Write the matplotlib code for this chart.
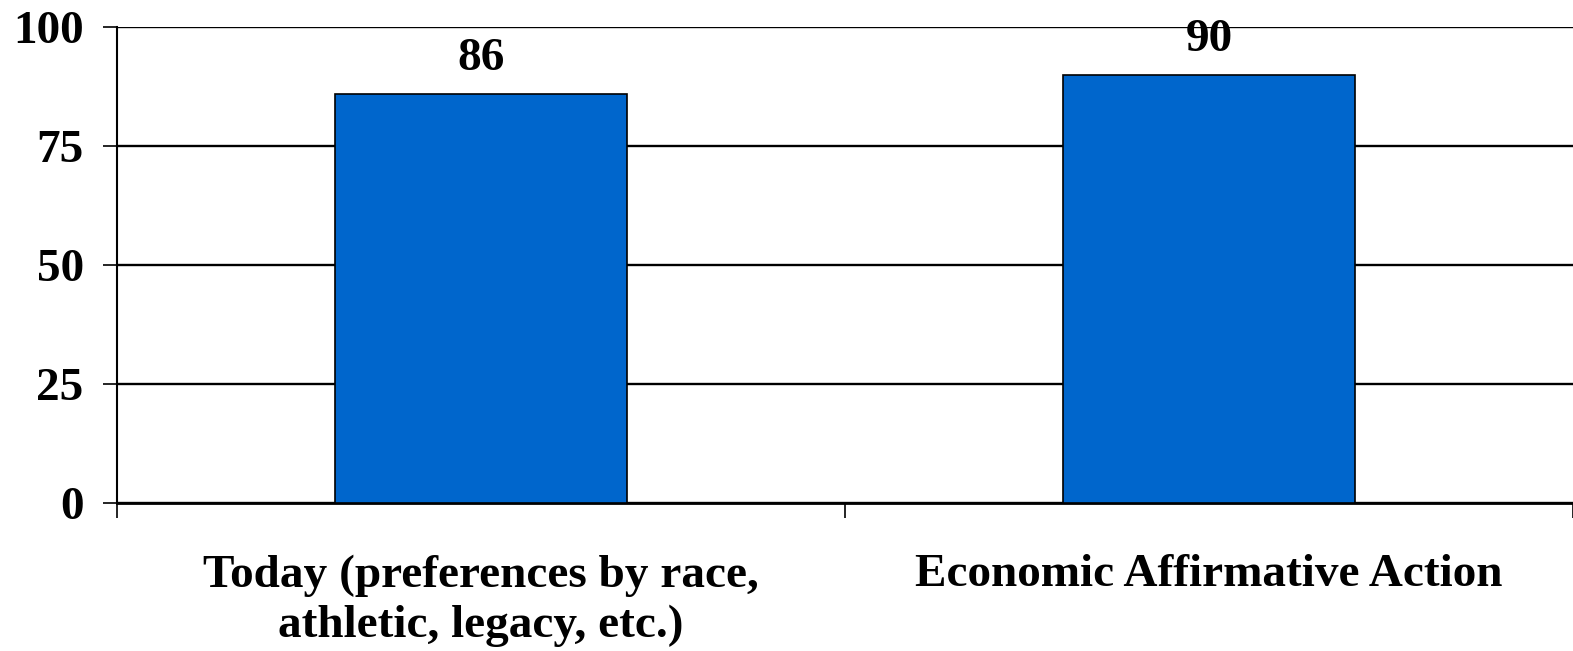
import numpy as np
import matplotlib.pyplot as plt

categories = ['Today (preferences by race,\nathletic, legacy, etc.)', 'Economic Affirmative Action']
values = [86, 90]
yticks = [0, 25, 50, 75, 100]

plt.rcParams['font.family'] = ['Liberation Serif', 'DejaVu Serif']
plt.rcParams['font.weight'] = 'bold'

fig = plt.figure(figsize=(15.73, 6.51), dpi=100)
ax = fig.add_axes([0.0744, 0.2273, 0.9256, 0.7312])

x = np.arange(len(categories))
bars = ax.bar(x, values, width=0.4, color='#0066CC', edgecolor='black', linewidth=1.2, zorder=3)

for b, v in zip(bars, values):
    ax.annotate(str(v), (b.get_x() + b.get_width() / 2, v), xytext=(0, 17),
                textcoords='offset points', ha='center', va='baseline',
                fontsize=34, fontweight='bold', zorder=4)

ax.set_xlim(-0.5, 1.5)
ax.set_ylim(0, 100)
ax.set_yticks(yticks)
ax.set_yticklabels([str(t) for t in yticks], fontsize=34, fontweight='bold')
ax.yaxis.grid(True, color='black', linewidth=1.7, zorder=0)
ax.set_axisbelow(True)

ax.set_xticks(x)
ax.set_xticklabels(categories, fontsize=34, fontweight='bold', linespacing=1.25)
ax.set_xticks([-0.5, 0.5, 1.5], minor=True)
ax.tick_params(axis='x', which='major', length=0, pad=37)
ax.tick_params(axis='x', which='minor', length=11, width=1.2, direction='out')
ax.tick_params(axis='y', length=10, width=1.2, pad=14, direction='out')

for s in ['top', 'right']:
    ax.spines[s].set_visible(False)
ax.spines['left'].set_linewidth(1.5)
ax.spines['bottom'].set_linewidth(2)

fig.savefig('out.png', dpi=100)
